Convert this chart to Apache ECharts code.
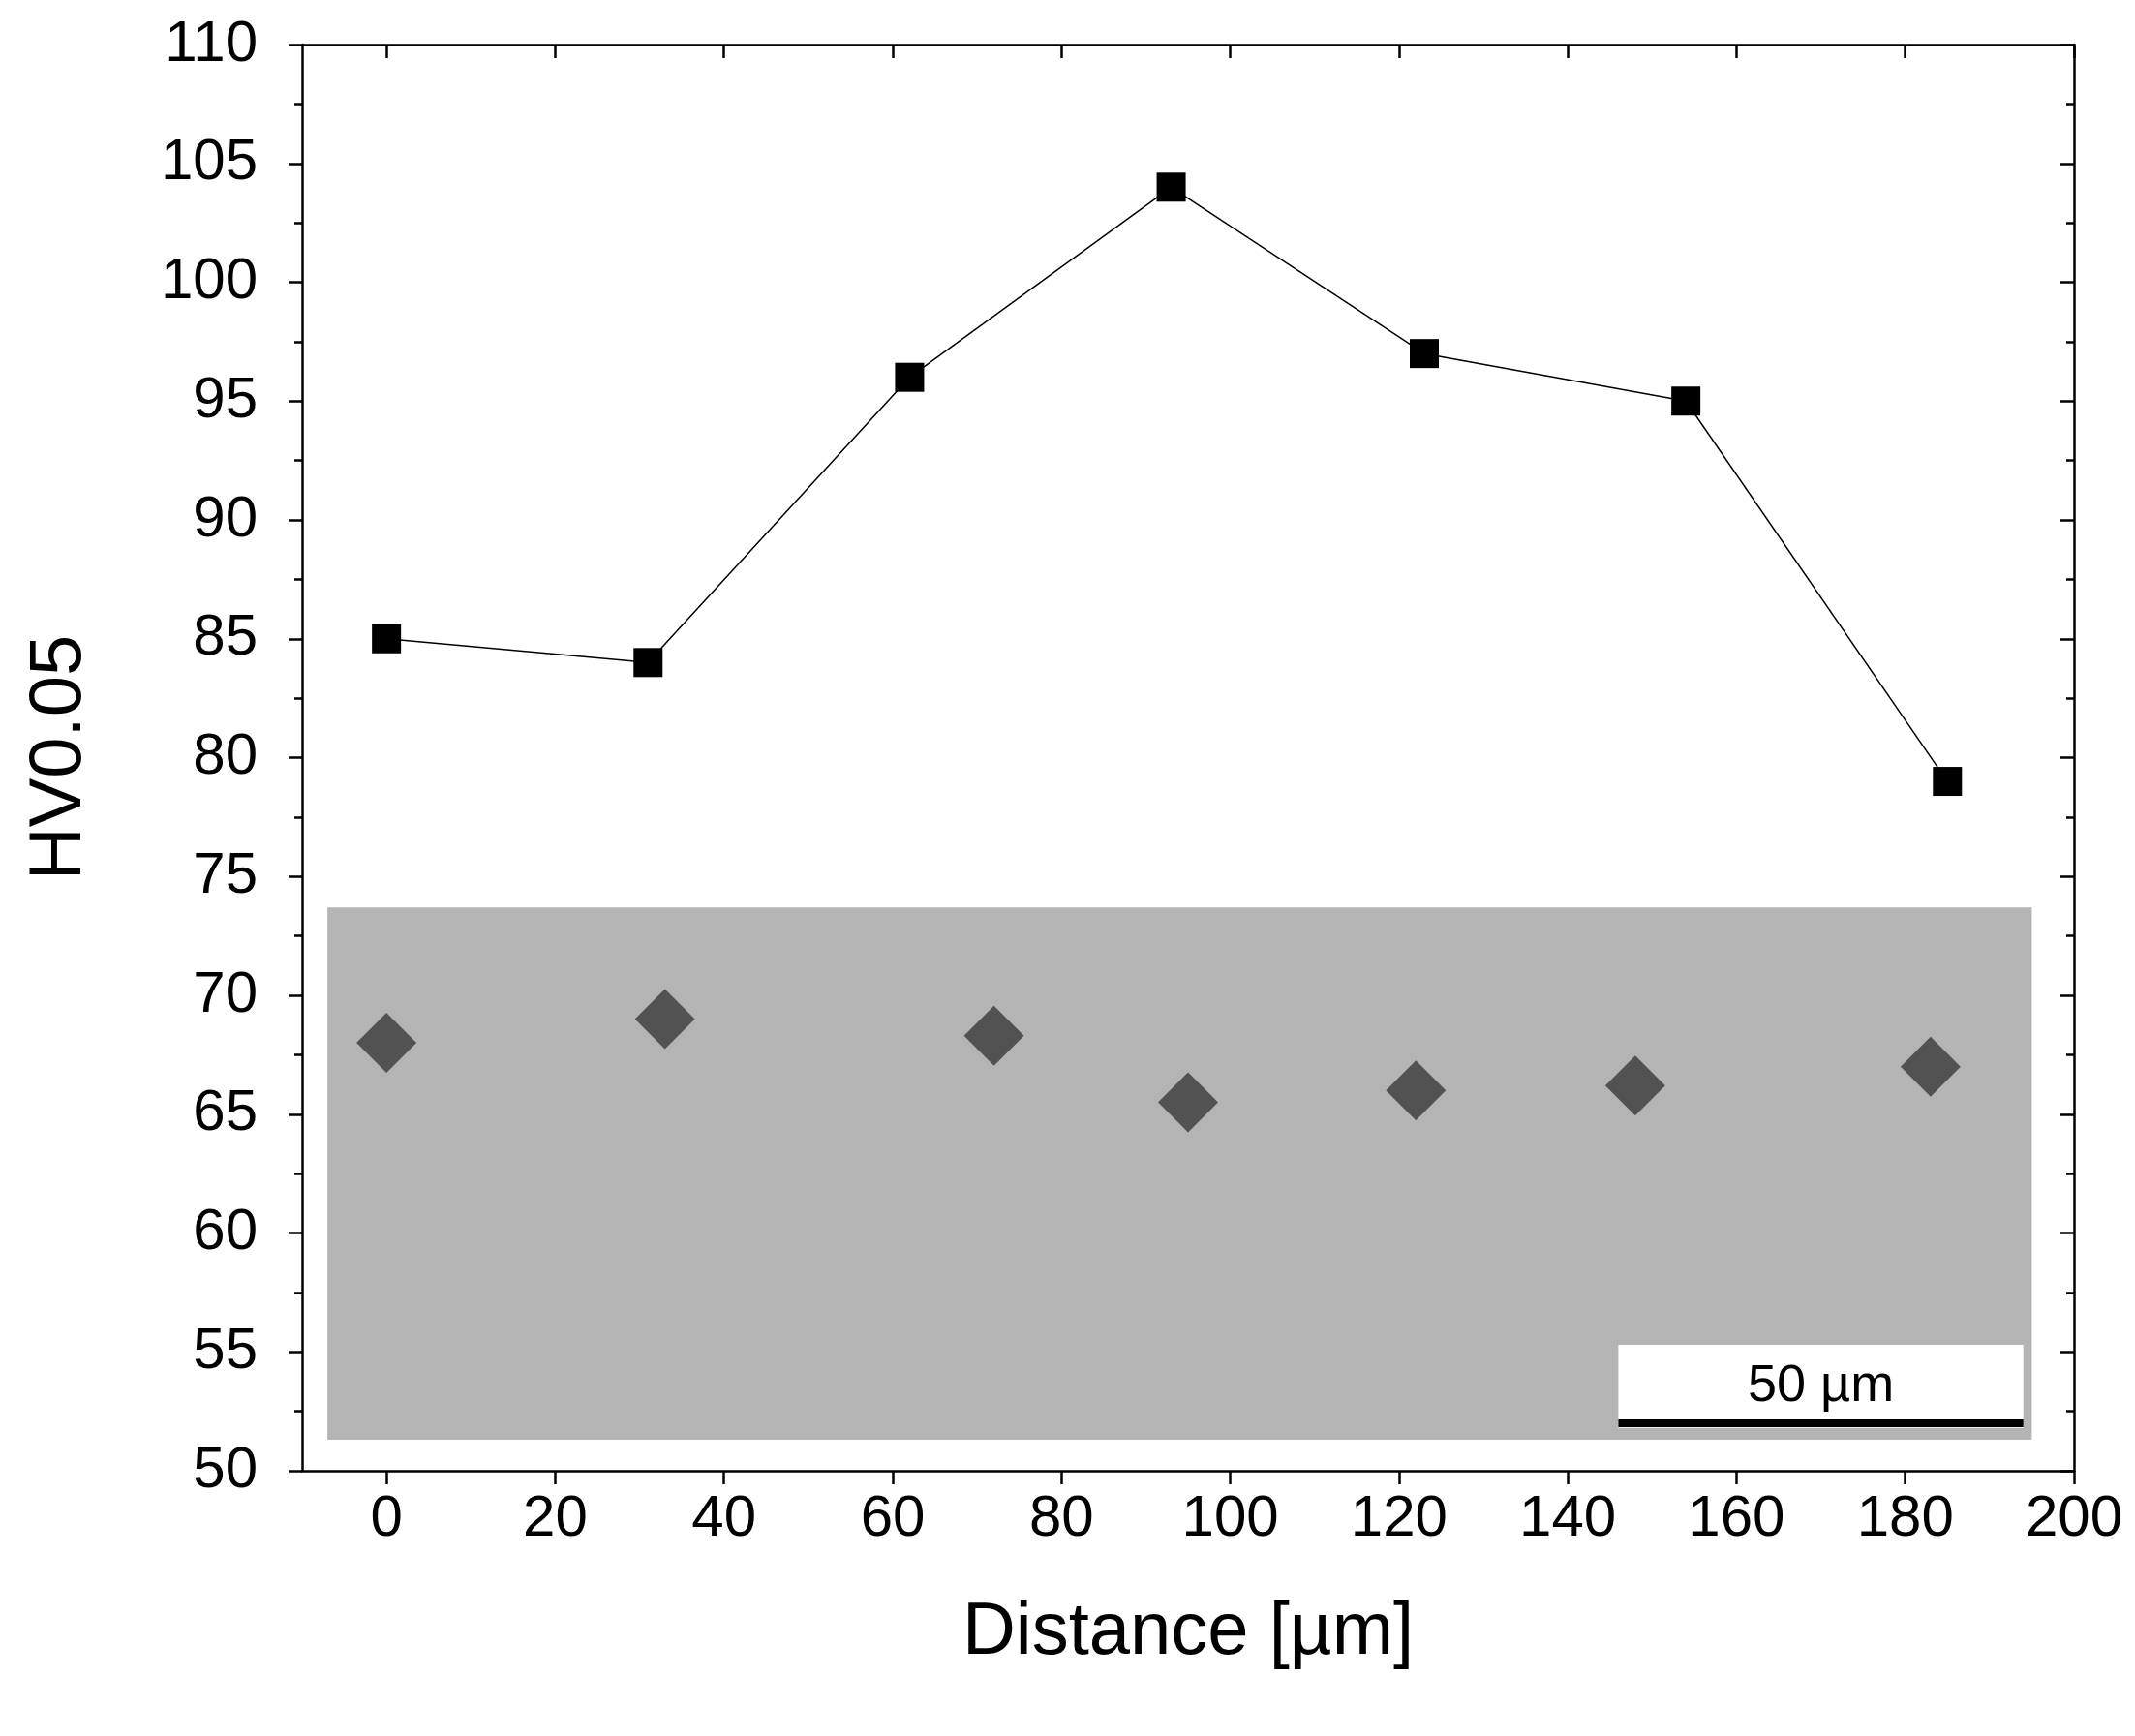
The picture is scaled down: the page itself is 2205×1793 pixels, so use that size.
<!DOCTYPE html>
<html><head><meta charset="utf-8">
<script src="https://cdn.jsdelivr.net/npm/echarts@6/dist/echarts.min.js"></script>
<style>html,body{margin:0;background:#fff}#c{width:2205px;height:1793px}</style></head>
<body><div id="c"></div>
<script>
const distances = [0, 31, 62, 93, 123, 154, 185];
const hardness = [85, 84, 96, 104, 97, 95, 79];
const imageArea = [[-7, 51.3], [195, 73.7]];
const scaleBar = [[146, 51.8], [194, 55.3]];
const scaleLine = [[146, 52.0], [194, 52.0]];
const indents = [[0, 68], [33, 69], [72, 68.3], [95, 65.5], [122, 66], [148, 66.2], [183, 67]];

const ch = echarts.init(document.getElementById('c'));
const font = 'Liberation Sans, Arial, sans-serif';
const tickVals = [0,20,40,60,80,100,120,140,160,180,200];
const line = {show: true, onZero: false, lineStyle: {color: '#000', width: 2.5}};
const minor = {show: true, splitNumber: 2, length: 8, lineStyle: {color: '#000', width: 2.5}};
ch.setOption({
  animation: false,
  grid: {left: 312, right: 63, top: 46, bottom: 274},
  xAxis: [
    {type: 'value', min: -10, max: 200, interval: 20, position: 'bottom',
      name: 'Distance [µm]', nameLocation: 'middle', nameGap: 130,
      nameTextStyle: {fontSize: 76, fontFamily: font, color: '#000'},
      axisLine: line, splitLine: {show: false}, minorTick: minor,
      axisLabel: {fontSize: 60, fontFamily: font, color: '#000', margin: 20, customValues: tickVals},
      axisTick: {show: true, length: 14, lineStyle: {color: '#000', width: 2.5}, customValues: tickVals}},
    {type: 'value', min: -10, max: 200, interval: 20, position: 'top',
      axisLine: line, splitLine: {show: false}, minorTick: minor, axisLabel: {show: false},
      axisTick: {show: true, inside: true, length: 14, lineStyle: {color: '#000', width: 2.5}, customValues: tickVals}}
  ],
  yAxis: [
    {type: 'value', min: 50, max: 110, interval: 5, position: 'left',
      name: 'HV0.05', nameLocation: 'middle', nameGap: 212,
      nameTextStyle: {fontSize: 76, fontFamily: font, color: '#000'},
      axisLine: line, splitLine: {show: false}, minorTick: minor,
      axisTick: {show: true, length: 14, lineStyle: {color: '#000', width: 2.5}},
      axisLabel: {fontSize: 60, fontFamily: font, color: '#000', margin: 46}},
    {type: 'value', min: 50, max: 110, interval: 5, position: 'right',
      axisLine: line, splitLine: {show: false}, minorTick: minor, axisLabel: {show: false},
      axisTick: {show: true, inside: true, length: 14, lineStyle: {color: '#000', width: 2.5}}}
  ],
  series: [
    {type: 'scatter', data: indents, symbol: 'diamond', symbolSize: 62, z: 1,
      itemStyle: {color: '#3a3a3a'}, silent: true,
      markArea: {silent: true, itemStyle: {color: '#b4b4b4'}, data: [[{coord: imageArea[0]}, {coord: imageArea[1]}]]}},
    {type: 'line', data: [], z: 2,
      markArea: {silent: true, itemStyle: {color: '#fff'},
        label: {show: true, position: 'inside', formatter: '50 µm', fontSize: 54, fontFamily: font, color: '#000'},
        data: [[{coord: scaleBar[0]}, {coord: scaleBar[1]}]]},
      markLine: {silent: true, symbol: 'none', label: {show: false}, lineStyle: {color: '#000', width: 8, type: 'solid'},
        data: [[{coord: scaleLine[0]}, {coord: scaleLine[1]}]]}},
    {type: 'line', data: distances.map((d, i) => [d, hardness[i]]), z: 5,
      symbol: 'rect', symbolSize: 30, lineStyle: {color: '#000', width: 1.5},
      itemStyle: {color: '#000'}}
  ]
});
</script></body></html>
